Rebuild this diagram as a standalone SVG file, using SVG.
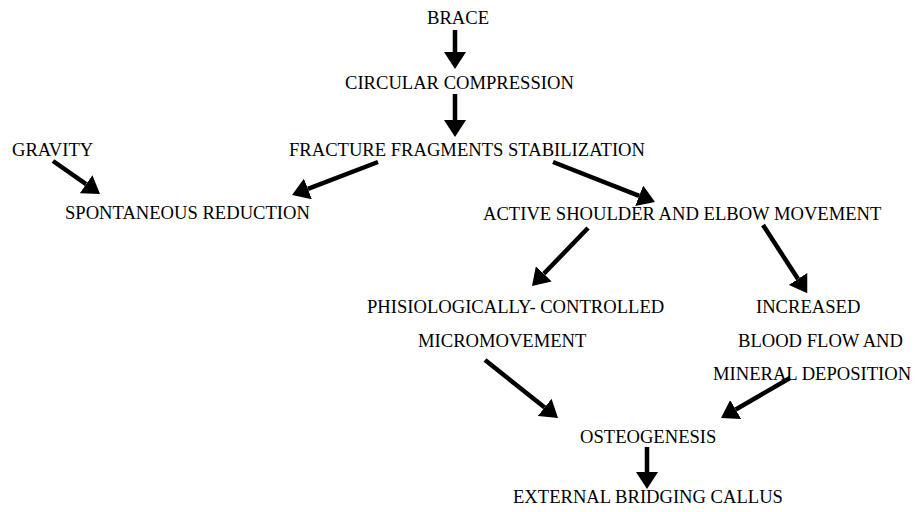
<svg xmlns="http://www.w3.org/2000/svg" width="917" height="512" viewBox="0 0 917 512">
<style>
text{font-family:"Liberation Serif","Times New Roman",serif;font-size:18.6px;fill:#000}
.c{stroke:#000;stroke-width:4.5;fill:none;marker-end:url(#ah)}
</style>
<defs>
<marker id="ah" viewBox="0 0 17 22" markerWidth="17" markerHeight="22" refX="0" refY="11" orient="auto" markerUnits="userSpaceOnUse">
<path d="M0,0 L17,11 L0,22 z" fill="#000"/>
</marker>
</defs>
<rect width="917" height="512" fill="#fff"/>
<g id="brace"><text x="427" y="24">BRACE</text></g>
<g id="circular"><text x="345" y="89">CIRCULAR COMPRESSION</text></g>
<g id="gravity"><text x="12" y="156">GRAVITY</text></g>
<g id="fracture"><text x="289" y="156">FRACTURE FRAGMENTS STABILIZATION</text></g>
<g id="spontaneous"><text x="65" y="219">SPONTANEOUS REDUCTION</text></g>
<g id="active"><text x="483" y="220">ACTIVE SHOULDER AND ELBOW MOVEMENT</text></g>
<g id="phisio"><text x="367" y="313">PHISIOLOGICALLY- CONTROLLED</text><text x="418" y="347">MICROMOVEMENT</text></g>
<g id="increased"><text x="756" y="313">INCREASED</text><text x="738" y="347">BLOOD FLOW AND</text><text x="713" y="380">MINERAL DEPOSITION</text></g>
<g id="osteo"><text x="580" y="443">OSTEOGENESIS</text></g>
<g id="callus"><text x="513" y="503">EXTERNAL BRIDGING CALLUS</text></g>
<g id="connectors">
<line class="c" x1="455" y1="30" x2="455" y2="52"/>
<line class="c" x1="455" y1="94" x2="455" y2="120"/>
<line class="c" x1="53" y1="161" x2="86.1" y2="184.2"/>
<line class="c" x1="378" y1="162" x2="307.9" y2="188.9"/>
<line class="c" x1="553" y1="162" x2="639.2" y2="195.8"/>
<line class="c" x1="588" y1="228" x2="543.8" y2="273.8"/>
<line class="c" x1="763" y1="225" x2="798" y2="279"/>
<line class="c" x1="485" y1="360" x2="544.7" y2="407.4"/>
<line class="c" x1="790" y1="378" x2="735.7" y2="409.5"/>
<line class="c" x1="647" y1="447" x2="647" y2="472"/>
</g>
</svg>
